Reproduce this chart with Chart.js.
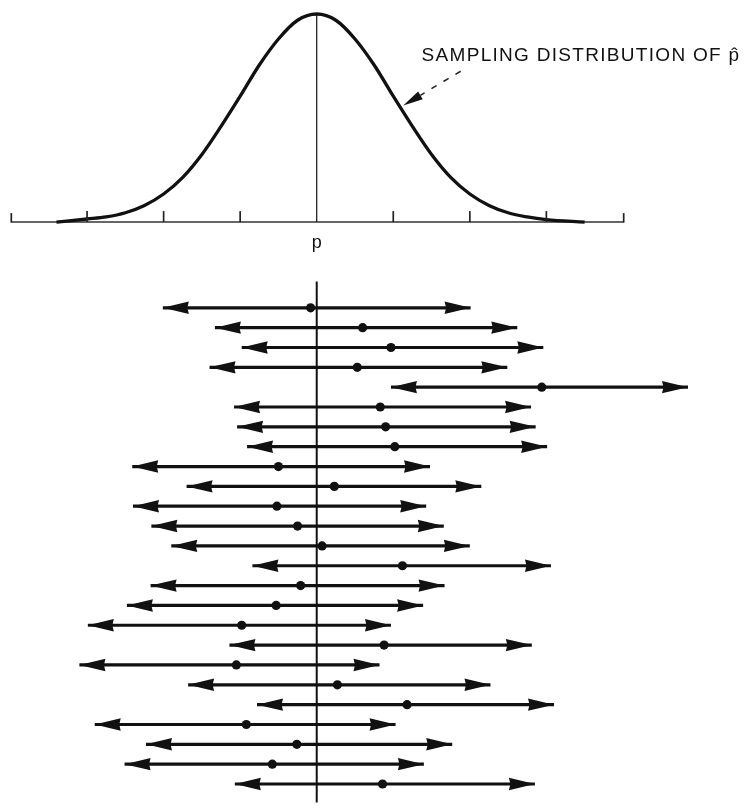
<!DOCTYPE html>
<html>
<head>
<meta charset="utf-8">
<script src="https://cdn.jsdelivr.net/npm/chart.js@4/dist/chart.umd.min.js"></script>
<style>
html,body{margin:0;padding:0;background:#fff;}
#wrap{width:750px;height:809px;position:relative;}
</style>
</head>
<body>
<div id="wrap"><canvas id="c" width="750" height="809"></canvas></div>
<script>
// Horizontal unit: standard errors away from the true p (p = 0)
const trueP = 0;
const centerLabel = 'p';
const annotationText = 'SAMPLING DISTRIBUTION OF p\u0302';

// Sampling distribution curve (height relative to peak)
const curveZ = [-3.4, -3.0, -2.75, -2.5, -2.25, -2.0, -1.75, -1.5, -1.25, -1.0, -0.75, -0.5, -0.25, 0, 0.25, 0.5, 0.75, 1.0, 1.25, 1.5, 1.75, 2.0, 2.25, 2.5, 2.75, 3.0, 3.5];
const curveH = [0.0, 0.015, 0.025, 0.045, 0.08, 0.135, 0.215, 0.325, 0.46, 0.605, 0.755, 0.88, 0.97, 1.0, 0.97, 0.88, 0.755, 0.605, 0.46, 0.325, 0.215, 0.135, 0.08, 0.045, 0.025, 0.012, 0.0];

// Axis tick marks under the curve and the axis end caps
const axisTicks = [-3, -2, -1, 1, 2, 3];
const axisEnds = [-3.99, 4.01];

// 25 intervals: estimate p-hat and interval ends
const rowIds = [1,2,3,4,5,6,7,8,9,10,11,12,13,14,15,16,17,18,19,20,21,22,23,24,25];
const pHat  = [-0.08, 0.60, 0.97, 0.53, 2.94, 0.83, 0.90, 1.02, -0.50, 0.23, -0.52, -0.25, 0.07, 1.12, -0.21, -0.53, -0.98, 0.88, -1.05, 0.27, 1.18, -0.92, -0.26, -0.58, 0.86];
const lower = [-2.01, -1.33, -0.98, -1.40, 0.97, -1.08, -1.04, -0.91, -2.41, -1.70, -2.40, -2.16, -1.90, -0.84, -2.17, -2.48, -2.99, -1.14, -3.10, -1.68, -0.78, -2.90, -2.23, -2.51, -1.07];
const upper = [2.01, 2.62, 2.96, 2.49, 4.85, 2.80, 2.86, 3.01, 1.48, 2.15, 1.43, 1.66, 2.00, 3.06, 1.67, 1.39, 0.97, 2.81, 0.82, 2.27, 3.10, 1.03, 1.77, 1.40, 2.85];

// Vertical reference line through the intervals (row units)
const refLineRows = [-0.33, 25.93];

const INK = '#111';

const datasets = [];
// curve
datasets.push({
  type: 'line', showLine: true, yAxisID: 'yCurve',
  data: curveZ.map((z, i) => ({x: z, y: curveH[i]})),
  borderColor: INK, borderWidth: 3.3, pointRadius: 0,
  cubicInterpolationMode: 'monotone', fill: false
});
// peak line
datasets.push({
  type: 'line', showLine: true, yAxisID: 'yCurve',
  data: [{x: trueP, y: 0}, {x: trueP, y: 1}],
  borderColor: INK, borderWidth: 1.2, pointRadius: 0
});
// baseline of top axis
datasets.push({
  type: 'line', showLine: true, yAxisID: 'yCurve',
  data: [{x: axisEnds[0], y: 0}, {x: axisEnds[1], y: 0}],
  borderColor: '#333', borderWidth: 1.5, pointRadius: 0
});
// vertical line through intervals
datasets.push({
  type: 'line', showLine: true, yAxisID: 'yRows',
  data: [{x: trueP, y: refLineRows[0]}, {x: trueP, y: refLineRows[1]}],
  borderColor: INK, borderWidth: 2, pointRadius: 0
});
// interval shafts
rowIds.forEach((r, i) => {
  datasets.push({
    type: 'line', showLine: true, yAxisID: 'yRows',
    data: [{x: lower[i], y: r}, {x: upper[i], y: r}],
    borderColor: INK, borderWidth: 3.2, pointRadius: 0, borderCapStyle: 'butt'
  });
});
// p-hat dots
datasets.push({
  type: 'scatter', yAxisID: 'yRows',
  data: rowIds.map((r, i) => ({x: pHat[i], y: r})),
  backgroundColor: INK, borderColor: INK, pointRadius: 4.6, borderWidth: 0
});

const decor = {
  id: 'decor',
  afterDatasetsDraw(chart) {
    const ctx = chart.ctx;
    const xs = chart.scales.x, yc = chart.scales.yCurve, yr = chart.scales.yRows;
    const y0 = yc.getPixelForValue(0);
    ctx.save();
    ctx.strokeStyle = '#222';
    ctx.fillStyle = INK;
    // ticks on top axis
    ctx.lineWidth = 1.7;
    axisTicks.forEach(t => {
      const px = xs.getPixelForValue(t);
      ctx.beginPath(); ctx.moveTo(px, y0); ctx.lineTo(px, y0 - 11); ctx.stroke();
    });
    axisEnds.forEach(t => {
      const px = xs.getPixelForValue(t);
      ctx.beginPath(); ctx.moveTo(px, y0 + 0.5); ctx.lineTo(px, y0 - 9); ctx.stroke();
    });
    // arrowheads
    const L = 26, W = 6.2;
    rowIds.forEach((r, i) => {
      const py = yr.getPixelForValue(r);
      const xl = xs.getPixelForValue(lower[i]);
      const xr = xs.getPixelForValue(upper[i]);
      ctx.beginPath();
      ctx.moveTo(xl, py);
      ctx.lineTo(xl + L, py - W);
      ctx.lineTo(xl + L - 1.5, py);
      ctx.lineTo(xl + L, py + W);
      ctx.closePath(); ctx.fill();
      ctx.beginPath();
      ctx.moveTo(xr, py);
      ctx.lineTo(xr - L, py - W);
      ctx.lineTo(xr - L + 1.5, py);
      ctx.lineTo(xr - L, py + W);
      ctx.closePath(); ctx.fill();
    });
    // center label
    ctx.font = '18px "Liberation Sans", Arial, sans-serif';
    ctx.textAlign = 'center';
    ctx.textBaseline = 'alphabetic';
    ctx.fillText(centerLabel, xs.getPixelForValue(trueP), y0 + 26);
    // annotation text
    ctx.font = '19px "Liberation Sans", Arial, sans-serif';
    ctx.textAlign = 'left';
    try { ctx.letterSpacing = '1.3px'; } catch (e) {}
    ctx.fillText(annotationText, xs.getPixelForValue(1.37), yc.getPixelForValue(0.775));
    try { ctx.letterSpacing = '0px'; } catch (e) {}
    // leader (dashed) with arrowhead touching the curve
    const tipX = xs.getPixelForValue(1.13), tipY = yc.getPixelForValue(0.56);
    const startX = xs.getPixelForValue(1.88), startY = yc.getPixelForValue(0.725);
    const dx = startX - tipX, dy = startY - tipY;
    const len = Math.hypot(dx, dy), ux = dx / len, uy = dy / len;
    const baseX = tipX + ux * 20, baseY = tipY + uy * 20;
    ctx.lineWidth = 1.5;
    ctx.setLineDash([6, 8]);
    ctx.beginPath(); ctx.moveTo(startX, startY); ctx.lineTo(baseX, baseY); ctx.stroke();
    ctx.setLineDash([]);
    ctx.beginPath();
    ctx.moveTo(tipX, tipY);
    ctx.lineTo(baseX - uy * 4.5, baseY + ux * 4.5);
    ctx.lineTo(baseX + uy * 4.5, baseY - ux * 4.5);
    ctx.closePath(); ctx.fill();
    ctx.restore();
  }
};

new Chart(document.getElementById('c'), {
  type: 'scatter',
  data: { datasets },
  options: {
    responsive: false,
    animation: false,
    devicePixelRatio: 1,
    layout: { padding: 0 },
    plugins: { legend: { display: false }, tooltip: { enabled: false } },
    scales: {
      x: { type: 'linear', display: false, min: -4.0774, max: 5.600 },
      yCurve: { type: 'linear', display: false, min: -2.798, max: 1.0452 },
      yRows: { type: 'linear', display: false, reverse: true, min: -14.281, max: 26.028 }
    }
  },
  plugins: [decor]
});
</script>
</body>
</html>
